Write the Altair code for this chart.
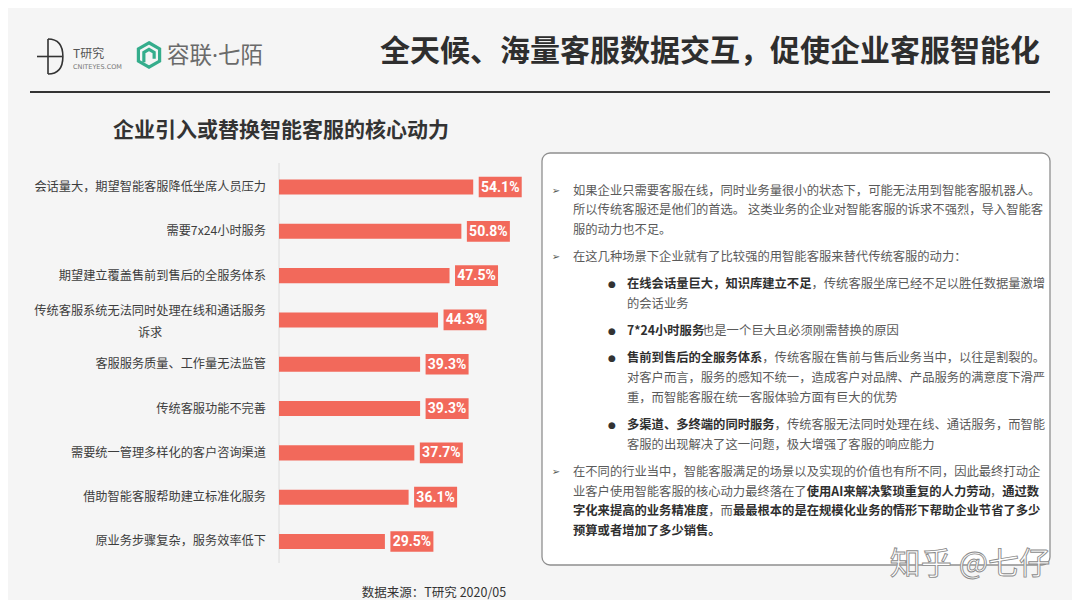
import altair as alt
import pandas as pd

# ---------------- data ----------------
categories = [
    "会话量大，期望智能客服降低坐席人员压力",
    "需要7x24小时服务",
    "期望建立覆盖售前到售后的全服务体系",
    "传统客服系统无法同时处理在线和通话服务\n诉求",
    "客服服务质量、工作量无法监管",
    "传统客服功能不完善",
    "需要统一管理多样化的客户咨询渠道",
    "借助智能客服帮助建立标准化服务",
    "原业务步骤复杂，服务效率低下",
]
values = [54.1, 50.8, 47.5, 44.3, 39.3, 39.3, 37.7, 36.1, 29.5]
value_labels = ["54.1%", "50.8%", "47.5%", "44.3%", "39.3%", "39.3%", "37.7%", "36.1%", "29.5%"]

main_title = "全天候、海量客服数据交互，促使企业客服智能化"
chart_title = "企业引入或替换智能客服的核心动力"
source_text = "数据来源：T研究 2020/05"
logo1_text = "T研究"
logo1_sub = "CNITEYES.COM"
logo2_text = "容联·七陌"
watermark = "知乎 @七仔"

panel_paragraphs = [
    ("arrow", [
        [("如果企业只需要客服在线，同时业务量很小的状态下，可能无法用到智能客服机器人。", 0)],
        [("所以传统客服还是他们的首选。 这类业务的企业对智能客服的诉求不强烈，导入智能客", 0)],
        [("服的动力也不足。", 0)],
    ]),
    ("arrow", [
        [("在这几种场景下企业就有了比较强的用智能客服来替代传统客服的动力：", 0)],
    ]),
    ("dot", [
        [("在线会话量巨大，知识库建立不足", 1), ("，传统客服坐席已经不足以胜任数据量激增", 0)],
        [("的会话业务", 0)],
    ]),
    ("dot", [
        [("7*24小时服务", 1), ("也是一个巨大且必须刚需替换的原因", 0)],
    ]),
    ("dot", [
        [("售前到售后的全服务体系", 1), ("，传统客服在售前与售后业务当中，以往是割裂的。", 0)],
        [("对客户而言，服务的感知不统一，造成客户对品牌、产品服务的满意度下滑严", 0)],
        [("重，而智能客服在统一客服体验方面有巨大的优势", 0)],
    ]),
    ("dot", [
        [("多渠道、多终端的同时服务", 1), ("，传统客服无法同时处理在线、通话服务，而智能", 0)],
        [("客服的出现解决了这一问题，极大增强了客服的响应能力", 0)],
    ]),
    ("arrow", [
        [("在不同的行业当中，智能客服满足的场景以及实现的价值也有所不同，因此最终打动企", 0)],
        [("业客户使用智能客服的核心动力最终落在了", 0), ("使用AI来解决繁琐重复的人力劳动", 1),
         ("，", 0), ("通过数", 1)],
        [("字化来提高的业务精准度", 1), ("，而", 0),
         ("最最根本的是在规模化业务的情形下帮助企业节省了多少", 1)],
        [("预算或者增加了多少销售。", 1)],
    ]),
]

# ---------------- styles ----------------
CJK = "Noto Sans CJK SC"
BAR = "#F2695B"
GREEN = "#35AD8C"
PANEL_FS = 12.3
W, H = 1064, 592
OX, OY = 8, 8  # page margin -> chart coordinates


def P(x):
    return x - OX


def Q(y):
    return y - OY


def text_width(s, fs):
    w = 0.0
    for ch in s:
        if ord(ch) >= 0x2E80 or ch in "，。：、":
            w += 1.0
        elif ch == " ":
            w += 0.23
        elif ch.isdigit():
            w += 0.55
        elif ch == "*":
            w += 0.45
        elif ch == "I":
            w += 0.28
        elif ch.isupper():
            w += 0.62
        else:
            w += 0.5
    return w * fs


def label(text, x, y, **kw):
    return alt.Chart(pd.DataFrame({"t": [text]})).mark_text(**kw).encode(
        x=alt.value(x), y=alt.value(y), text="t:N")


def dummy():
    return alt.Chart(pd.DataFrame({"d": [0]}))


# ---------------- bar chart ----------------
df = pd.DataFrame({"cat": categories, "value": values, "label": value_labels})
df["multi"] = df["cat"].str.contains("\n")

xscale = alt.Scale(domain=[0, 100], range=[P(279), P(279) + 359])
yscale = alt.Scale(domain=categories, range=[Q(187) - 22.15, Q(541.5) + 22.15],
                   paddingInner=0.66, paddingOuter=0.33)

X = alt.X("value:Q", scale=xscale, axis=None)
Y = alt.Y("cat:N", scale=yscale, axis=None)

bars = alt.Chart(df).mark_bar(color=BAR).encode(x=X, y=Y)
box_path = "M-1,-0.48 L1,-0.48 L1,0.48 L-1,0.48 Z"
boxes = alt.Chart(df).mark_point(shape=box_path, size=1849, filled=True, fill=BAR,
                                 strokeWidth=0, opacity=1, xOffset=27).encode(x=X, y=Y)
vals = alt.Chart(df).mark_text(align="center", baseline="middle", dx=27, dy=0.5,
                               color="white", fontSize=14, fontWeight="bold",
                               font="Roboto").encode(x=X, y=Y, text="label:N")

single = df[~df["multi"]]
multi = df[df["multi"]]
cat_single = alt.Chart(single).mark_text(align="right", baseline="middle", fontSize=12.2,
                                         color="#3d3d3d", font=CJK).encode(
    x=alt.value(P(266)), y=Y, text="cat:N")
first_line_w = text_width(multi["cat"].iloc[0].split("\n")[0], 12.2)
cat_multi = alt.Chart(multi).mark_text(align="center", baseline="middle", fontSize=12.2,
                                       color="#3d3d3d", font=CJK, lineBreak="\n",
                                       lineHeight=22, dy=-9).encode(
    x=alt.value(P(266) - first_line_w / 2), y=Y, text="cat:N")

axis_rule = alt.Chart(pd.DataFrame({"v": [0]})).mark_rule(color="#dcdcdc", strokeWidth=1).encode(
    x=alt.X("v:Q", scale=xscale, axis=None), y=alt.value(Q(163)), y2=alt.value(Q(563)))

# ---------------- header ----------------
t_vert = dummy().mark_rule(color="#333", strokeWidth=1.6).encode(
    x=alt.value(P(48)), y=alt.value(Q(39)), y2=alt.value(Q(74)))
t_horz = dummy().mark_rule(color="#333", strokeWidth=1.6).encode(
    x=alt.value(P(37)), x2=alt.value(P(62)), y=alt.value(Q(56.5)))
semi_path = "M0,-1 C0.75,-1 0.85,-0.45 0.85,0 C0.85,0.45 0.75,1 0,1"
t_arc = dummy().mark_point(shape=semi_path, size=1225, filled=False, stroke="#333",
                           strokeWidth=1.6, opacity=1).encode(
    x=alt.value(P(48)), y=alt.value(Q(56.5)))
logo1 = label(logo1_text, P(73), Q(54), align="left", baseline="middle", fontSize=12,
              color="#555", font=CJK)
logo1s = label(logo1_sub, P(73), Q(67), align="left", baseline="middle", fontSize=6.5,
               color="#777", font="DejaVu Sans")
hex_path = "M0,-1 L0.866,-0.5 L0.866,0.5 L0,1 L-0.866,0.5 L-0.866,-0.5 Z"
inner_path = "M-0.42,0.6 L-0.42,-0.22 L0,-0.46 L0.42,-0.22 L0.42,0.3"
hex1 = dummy().mark_point(shape=hex_path, size=600, filled=False, stroke=GREEN,
                          strokeWidth=3.2, opacity=1).encode(
    x=alt.value(P(149)), y=alt.value(Q(55)))
hex2 = dummy().mark_point(shape=inner_path, size=600, filled=False, stroke=GREEN,
                          strokeWidth=3.2, opacity=1).encode(
    x=alt.value(P(149)), y=alt.value(Q(55)))
logo2 = label(logo2_text, P(167), Q(56), align="left", baseline="middle", fontSize=22.5,
              color="#6a6a6a", font="'Noto Sans', 'Noto Sans CJK SC'")
title = label(main_title, P(380), Q(52), align="left", baseline="middle", fontSize=30,
              fontWeight="bold", color="#2e2e2e", font=CJK)
head_rule = dummy().mark_rule(color="#333", strokeWidth=2).encode(
    x=alt.value(P(30)), x2=alt.value(P(1050)), y=alt.value(Q(92)))
subtitle = label(chart_title, P(113), Q(131), align="left", baseline="middle", fontSize=21,
                 fontWeight="bold", color="#333", font=CJK)
source = label(source_text, P(434), Q(593), align="center", baseline="middle", fontSize=12.5,
               color="#333", font=CJK)

# ---------------- right panel ----------------
panel_box = dummy().mark_rect(fill="white", stroke="#8f8f8f", strokeWidth=1.3,
                              cornerRadius=8).encode(
    x=alt.value(P(542)), x2=alt.value(P(1050)), y=alt.value(Q(153)), y2=alt.value(Q(565)))

rows, markers = [], []
y = 190.5
LINE, GAP = 19.7, 27.2
first = True
for kind, lines in panel_paragraphs:
    if not first:
        y += GAP - LINE
    first = False
    x0 = 573 if kind == "arrow" else 627
    markers.append({"x": P(556 if kind == "arrow" else 612), "y": Q(y),
                    "t": "➢" if kind == "arrow" else "●"})
    for segs in lines:
        x = x0
        for txt, bold in segs:
            rows.append({"x": P(x), "y": Q(y), "t": txt, "bold": bold})
            x += text_width(txt, PANEL_FS)
        y += LINE
panel_df = pd.DataFrame(rows)
marker_df = pd.DataFrame(markers)

PX = alt.X("x:Q", scale=alt.Scale(domain=[0, W], range=[0, W]), axis=None)
PY = alt.Y("y:Q", scale=alt.Scale(domain=[0, H], range=[0, H]), axis=None)

panel_reg = alt.Chart(panel_df[panel_df["bold"] == 0]).mark_text(
    align="left", baseline="middle", fontSize=PANEL_FS, color="#5a5a5a", font=CJK).encode(
    x=PX, y=PY, text="t:N")
panel_bold = alt.Chart(panel_df[panel_df["bold"] == 1]).mark_text(
    align="left", baseline="middle", fontSize=PANEL_FS, fontWeight="bold", color="#2f2f2f",
    font=CJK).encode(x=PX, y=PY, text="t:N")
arrows = alt.Chart(marker_df[marker_df["t"] == "➢"]).mark_text(
    align="center", baseline="middle", fontSize=10, color="#555", font="DejaVu Sans").encode(
    x=PX, y=PY, text="t:N")
dots = alt.Chart(marker_df[marker_df["t"] == "●"]).mark_text(
    align="center", baseline="middle", fontSize=9, color="#333", font="DejaVu Sans").encode(
    x=PX, y=PY, text="t:N")

wm = label(watermark, P(1050), Q(565), align="right", baseline="middle", fontSize=31,
           color="white", stroke="#8a8a8a", strokeWidth=0.9, font=CJK)

chart = alt.layer(
    axis_rule, bars, boxes, vals, cat_single, cat_multi,
    t_vert, t_horz, t_arc, logo1, logo1s, hex1, hex2, logo2, title, head_rule, subtitle, source,
    panel_box, panel_reg, panel_bold, arrows, dots, wm,
).resolve_scale(x="independent", y="independent").properties(
    width=W, height=H, padding=0, autosize=alt.AutoSizeParams(type="none"),
    background="#f5f5f5",
).configure_view(stroke=None)

chart.save("out.html", embed_options={"renderer": "svg", "actions": False})
